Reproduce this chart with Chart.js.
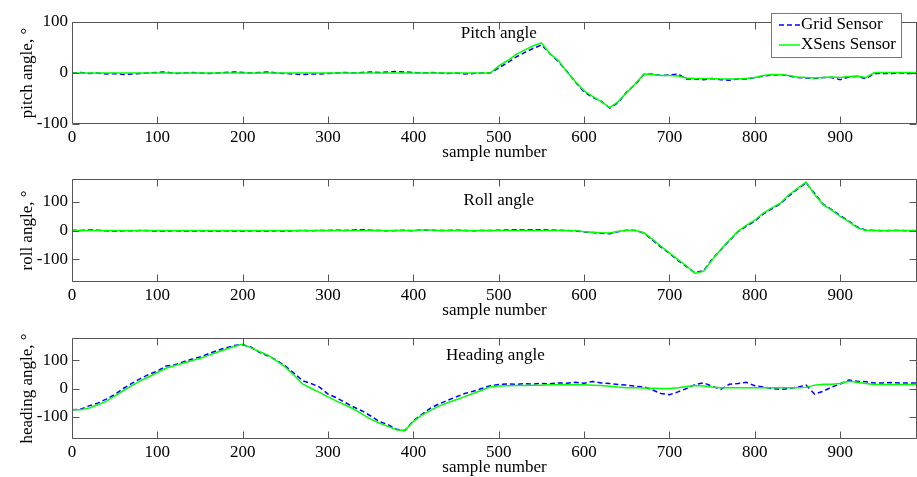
<!DOCTYPE html>
<html>
<head>
<meta charset="utf-8">
<script src="https://cdn.jsdelivr.net/npm/chart.js@4"></script>
<style>
  html, body { margin: 0; padding: 0; background: #fff; overflow: hidden; }
  .plot { position: absolute; left: 0; width: 917px; }
</style>
</head>
<body>
<div class="plot" style="top:0;height:162px"><canvas id="pitchChart"></canvas></div>
<div class="plot" style="top:162px;height:158px"><canvas id="rollChart"></canvas></div>
<div class="plot" style="top:320px;height:157px"><canvas id="headingChart"></canvas></div>
<script>
// sample numbers (every 10th sample)
const samples = [
  0, 10, 20, 30, 40, 50, 60, 70, 80, 90, 100, 110, 120, 130, 140, 150, 160, 170, 180, 190,
  200, 210, 220, 230, 240, 250, 260, 270, 280, 290, 300, 310, 320, 330, 340, 350, 360, 370, 380, 390,
  400, 410, 420, 430, 440, 450, 460, 470, 480, 490, 500, 510, 520, 530, 540, 550, 560, 570, 580, 590,
  600, 610, 620, 630, 640, 650, 660, 670, 680, 690, 700, 710, 720, 730, 740, 750, 760, 770, 780, 790,
  800, 810, 820, 830, 840, 850, 860, 870, 880, 890, 900, 910, 920, 930, 940, 950, 960, 970, 980, 990
];
const xTicks = [0, 100, 200, 300, 400, 500, 600, 700, 800, 900];
const yTicks = [-100, 0, 100];
const seriesNames = ['Grid Sensor', 'XSens Sensor'];

// pitch angle
const gridPitch = [
  0, 1, -1, 0, -2, -1, -3, -2, -1, 0, 1, 2, -1, 0, 1, 0, -1, 0, 1, 2,
  1, 0, 1, 2, 0, -1, -2, -3, -2, -2, -1, 0, 1, 0, 1, 2, 1, 2, 3, 2,
  1, 0, 1, 0, -1, 0, -2, -1, 0, 0, 10, 20, 31, 40, 48, 55, 38, 22, 3, -18,
  -37, -48, -55, -69, -58, -37, -22, -3, -2, -5, -4, -2, -12, -12, -13, -11, -13, -14, -12, -12,
  -9, -6, -4, -3, -6, -9, -10, -11, -9, -9, -13, -8, -7, -11, -1, -1, -1, 0, -1, -1
];
const xsensPitch = [
  0, 0, 0, 0, 0, 0, 0, 0, 0, 0, 0, 0, 0, 0, 0, 0, 0, 0, 0, 0,
  0, 0, 0, 0, 0, 0, 0, 0, 0, 0, 0, 0, 0, 0, 0, 0, 0, 0, 0, 0,
  0, 0, 0, 0, 0, 0, 0, 0, 0, 0, 14, 24, 36, 45, 53, 59, 38, 24, 2, -17,
  -35, -46, -56, -68, -56, -38, -21, -2, -3, -5, -5, -6, -10, -11, -11, -11, -12, -12, -12, -11,
  -9, -5, -3, -3, -5, -8, -9, -10, -9, -8, -9, -7, -6, -9, 1, 1, 1, 1, 1, 1
];

// roll angle
const gridRoll = [
  1, 0, 2, 1, -1, -2, -1, -1, 0, -1, -2, -2, -1, -2, -2, -1, -2, -2, -1, -2,
  -2, -1, -2, -2, -1, -2, -1, 0, -1, 0, 0, 1, 0, 2, 3, 1, 0, -1, 0, 1,
  -1, 2, 1, 0, 0, 1, 0, -1, 0, 0, 1, 2, 3, 2, 3, 3, 2, 1, 0, -2,
  -5, -7, -10, -11, -4, 1, 0, -9, -33, -58, -80, -105, -126, -148, -140, -100, -68, -36, -5, 15,
  33, 58, 76, 93, 121, 145, 166, 130, 92, 73, 52, 33, 12, 1, 0, -1, 0, 0, -1, 0
];
const xsensRoll = [
  0, 0, 0, 0, 0, 0, 0, 0, 0, 0, 0, 0, 0, 0, 0, 0, 0, 0, 0, 0,
  0, 0, 0, 0, 0, 0, 0, 0, 0, 0, 0, 0, 0, 0, 0, 0, 0, 0, 0, 0,
  0, 2, 2, 0, 0, 0, 0, 0, 0, 0, 0, 0, 0, 0, 0, 0, 0, 0, 0, 0,
  -4, -6, -8, -9, -3, 0, 0, -8, -30, -55, -78, -102, -124, -150, -142, -103, -66, -34, -3, 18,
  36, 61, 79, 96, 125, 147, 169, 126, 90, 71, 49, 31, 10, 0, 0, 0, 0, 0, 0, 0
];

// heading angle
const gridHeading = [
  -76, -74, -62, -52, -38, -22, 0, 18, 35, 50, 62, 80, 84, 95, 104, 112, 124, 135, 145, 153,
  156, 147, 128, 116, 100, 80, 55, 28, 18, 5, -20, -33, -50, -66, -80, -98, -118, -128, -145, -150,
  -115, -92, -70, -55, -42, -30, -18, -10, 0, 10, 14, 16, 15, 17, 16, 18, 17, 20, 19, 22,
  19, 25, 20, 18, 14, 12, 8, 6, -5, -18, -22, -12, 0, 14, 20, 8, -3, 15, 18, 22,
  10, 5, 0, -3, 0, 5, 12, -20, -10, 5, 16, 30, 26, 24, 20, 20, 21, 20, 20, 20
];
const xsensHeading = [
  -76, -76, -70, -58, -46, -27, -8, 10, 27, 42, 57, 72, 81, 90, 99, 108, 118, 129, 140, 150,
  158, 145, 131, 118, 98, 76, 48, 16, 1, -14, -30, -45, -59, -73, -91, -109, -123, -135, -147, -150,
  -117, -95, -78, -63, -51, -40, -29, -18, -6, 6, 9, 10, 11, 11, 12, 12, 13, 13, 13, 13,
  13, 12, 11, 8, 5, 3, 3, 2, 1, 0, 0, 3, 7, 11, 9, 5, 3, 3, 3, 3,
  3, 3, 3, 3, 3, 3, 4, 12, 15, 15, 18, 26, 22, 18, 14, 14, 14, 14, 14, 14
];

const serif = "'Liberation Serif', 'DejaVu Serif', serif";

// MATLAB-like box, inward ticks, inner title and legend
const matlabAxes = {
  id: 'matlabAxes',
  afterDraw(chart, args, opts) {
    const ctx = chart.ctx;
    const a = chart.chartArea;
    const xs = chart.scales.x, ys = chart.scales.y;
    const L = Math.round(a.left) + 0.5, R = Math.round(a.right) - 0.5;
    const T = Math.round(a.top) + 0.5, B = Math.round(a.bottom) - 0.5;
    ctx.save();
    ctx.strokeStyle = '#555';
    ctx.lineWidth = 1;
    ctx.setLineDash([]);
    ctx.beginPath();
    ctx.rect(L, T, R - L, B - T);
    xs.ticks.forEach(t => {
      const px = Math.round(xs.getPixelForValue(t.value)) + 0.5;
      ctx.moveTo(px, B); ctx.lineTo(px, B - 7);
      ctx.moveTo(px, T); ctx.lineTo(px, T + 7);
    });
    ys.ticks.forEach(t => {
      const py = Math.round(ys.getPixelForValue(t.value)) + 0.5;
      ctx.moveTo(L, py); ctx.lineTo(L + 7, py);
      ctx.moveTo(R, py); ctx.lineTo(R - 7, py);
    });
    ctx.stroke();

    // title written inside the axes
    ctx.fillStyle = '#000';
    ctx.font = '17px ' + serif;
    ctx.textAlign = 'center';
    ctx.textBaseline = 'middle';
    ctx.fillText(opts.text, xs.getPixelForValue(opts.at[0]), ys.getPixelForValue(opts.at[1]));

    if (opts.legend) {
      const lx = 771, ly = 13, w = 130, h = 44;
      ctx.fillStyle = '#fff';
      ctx.fillRect(lx, ly, w, h);
      ctx.strokeStyle = '#777';
      ctx.strokeRect(lx + 0.5, ly + 0.5, w, h);
      ctx.textAlign = 'left';
      chart.data.datasets.forEach((ds, i) => {
        const cy = ly + 12 + i * 20;
        ctx.strokeStyle = ds.borderColor;
        ctx.lineWidth = ds.borderWidth;
        ctx.setLineDash(ds.borderDash || []);
        ctx.beginPath();
        ctx.moveTo(lx + 8, cy); ctx.lineTo(lx + 29, cy);
        ctx.stroke();
        ctx.setLineDash([]);
        ctx.fillStyle = '#000';
        ctx.fillText(ds.label, lx + 30, cy);
      });
    }
    ctx.restore();
  }
};

function makeChart(id, gridVals, xsensVals, yMin, yMax, yTitle, title, padTop, legend) {
  return new Chart(document.getElementById(id), {
    type: 'line',
    data: {
      datasets: [
        {
          label: seriesNames[0],
          data: samples.map((s, i) => ({ x: s, y: gridVals[i] })),
          borderColor: '#0000ff',
          borderWidth: 1.5,
          borderDash: [5, 3],
          pointRadius: 0,
          tension: 0,
          order: 1
        },
        {
          label: seriesNames[1],
          data: samples.map((s, i) => ({ x: s, y: xsensVals[i] })),
          borderColor: '#00ff00',
          borderWidth: 1.5,
          pointRadius: 0,
          tension: 0,
          order: 0
        }
      ]
    },
    options: {
      responsive: true,
      maintainAspectRatio: false,
      animation: false,
      layout: { padding: { top: padTop, right: 0, left: 0, bottom: 0 } },
      plugins: {
        legend: { display: false },
        tooltip: { enabled: false },
        matlabAxes: { text: title.text, at: title.at, legend: legend }
      },
      scales: {
        x: {
          type: 'linear',
          min: 0,
          max: 990,
          grid: { display: false, drawTicks: false },
          border: { display: false },
          afterBuildTicks: s => { s.ticks = xTicks.map(v => ({ value: v })); },
          ticks: {
            autoSkip: false,
            maxRotation: 0,
            padding: 3,
            color: '#000',
            font: { family: serif, size: 17 }
          },
          title: {
            display: true,
            text: 'sample number',
            color: '#000',
            font: { family: serif, size: 17, lineHeight: 1 },
            padding: { top: 0, bottom: 1 }
          },
          afterFit: s => { s.height = 38; }
        },
        y: {
          min: yMin,
          max: yMax,
          grid: { display: false, drawTicks: false },
          border: { display: false },
          afterBuildTicks: s => { s.ticks = yTicks.map(v => ({ value: v })); },
          ticks: {
            autoSkip: false,
            padding: 4,
            color: '#000',
            font: { family: serif, size: 17 }
          },
          title: {
            display: true,
            text: yTitle,
            color: '#000',
            font: { family: serif, size: 17, lineHeight: 1 },
            padding: { top: 19, bottom: 0 }
          },
          afterFit: s => { s.width = 72; }
        }
      }
    },
    plugins: [matlabAxes]
  });
}

makeChart('pitchChart', gridPitch, xsensPitch, -100, 100, 'pitch angle, °',
  { text: 'Pitch angle', at: [500, 78] }, 22, true);
makeChart('rollChart', gridRoll, xsensRoll, -180, 180, 'roll angle, °',
  { text: 'Roll angle', at: [500, 106] }, 17, false);
makeChart('headingChart', gridHeading, xsensHeading, -180, 180, 'heading angle, °',
  { text: 'Heading angle', at: [496, 117] }, 18, false);
</script>
</body>
</html>
